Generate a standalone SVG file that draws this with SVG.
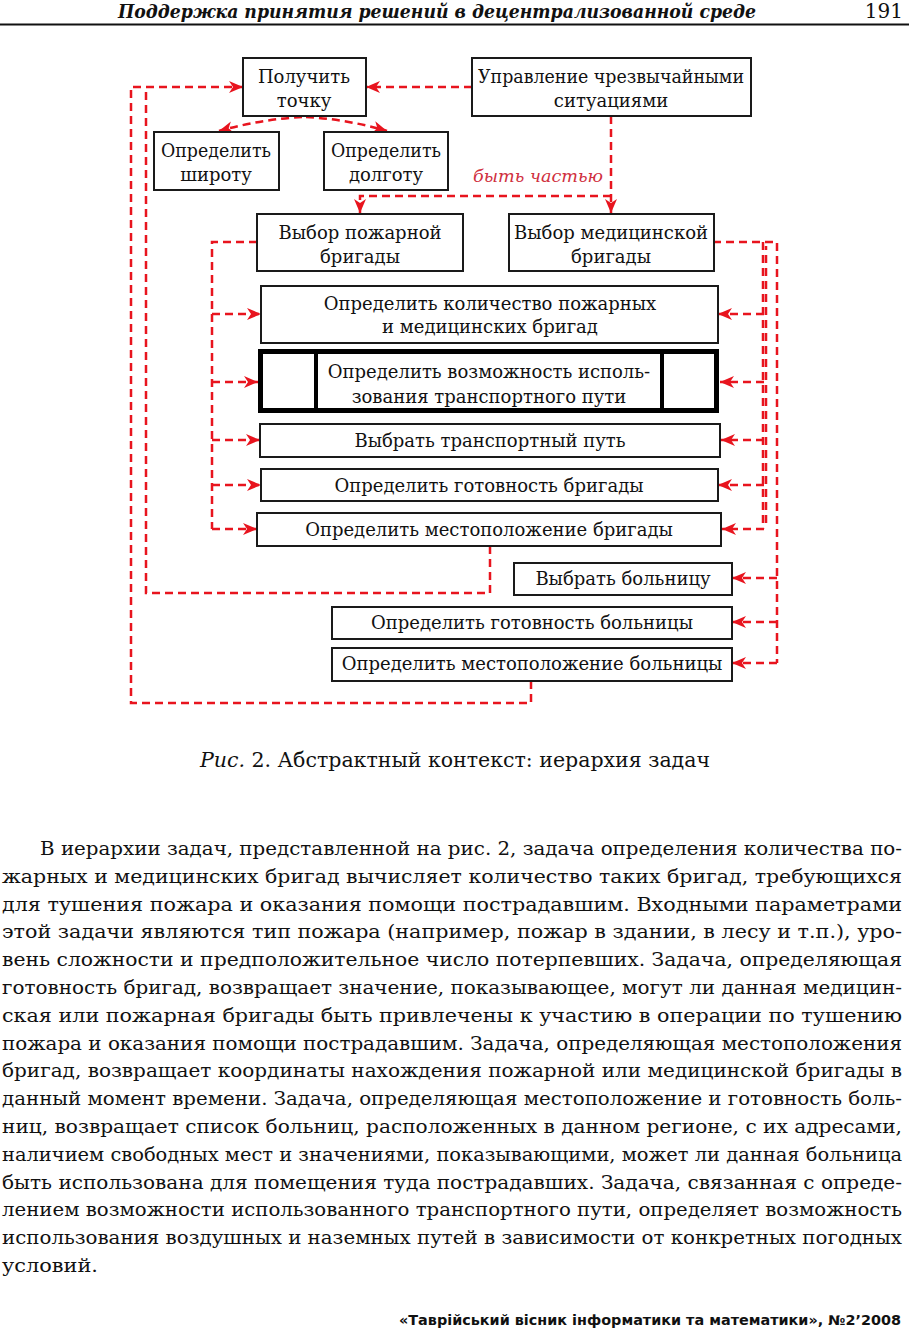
<svg xmlns="http://www.w3.org/2000/svg" width="909" height="1332" viewBox="0 0 909 1332">
<style>
.box{fill:#fff;stroke:#1a1a1a;stroke-width:2}
.thick{fill:#fff;stroke:#000;stroke-width:5}
.t{font-family:"DejaVu Serif","Liberation Serif",serif;font-size:18px;fill:#111;text-anchor:middle}
.c{fill:none;stroke:#e8141e;stroke-width:2.5;stroke-dasharray:8 5}
.a{marker-end:url(#arr)}
.lbl{font-family:"DejaVu Serif",serif;font-style:italic;font-size:17px;fill:#d03040}
.p{font-family:"DejaVu Serif","Liberation Serif",serif;font-size:20px;fill:#111}
.q{font-family:"DejaVu Serif","Liberation Serif",serif;font-size:19px;fill:#111}
</style>
<defs>
<marker id="arr" markerUnits="userSpaceOnUse" markerWidth="16" markerHeight="14" refX="14" refY="7" orient="auto">
<path d="M0,1 L14,7 L0,13 L4,7 z" fill="#e8141e"/>
</marker>
</defs>
<rect width="909" height="1332" fill="#fff"/>

<g id="header">
<text x="437" y="18" text-anchor="middle" style="font-family:'DejaVu Serif',serif;font-style:italic;font-weight:bold;font-size:19px" textLength="638" lengthAdjust="spacingAndGlyphs" fill="#111">Поддержка принятия решений в децентрализованной среде</text>
<text x="903" y="18" text-anchor="end" style="font-family:'DejaVu Serif',serif;font-size:20px" fill="#111">191</text>
<line x1="0" y1="24.5" x2="909" y2="24.5" stroke="#111" stroke-width="2"/>
</g>

<g id="connectors">
<path class="c a" d="M472,87 H366"/>
<path class="c a" d="M490,546 V593 H146 V87 H243"/>
<path class="c" d="M531,681 V703 H131 V87 H146"/>
<path class="c a" d="M302,117 Q262,119 219,131"/>
<path class="c a" d="M306,117 Q346,119 387,131"/>
<path class="c a" d="M611,116 V213"/>
<path class="c a" d="M611,196 H360 V213"/>
<text class="lbl" x="603" y="182" text-anchor="end" textLength="130" lengthAdjust="spacingAndGlyphs">быть частью</text>
<path class="c" d="M257,242 H212 V529"/>
<path class="c a" d="M212,314 H261"/>
<path class="c a" d="M212,382 H258"/>
<path class="c a" d="M212,440 H260"/>
<path class="c a" d="M212,485 H261"/>
<path class="c a" d="M212,529 H257"/>
<path class="c" d="M713,242 H777 V663"/>
<path class="c" d="M763,242 V529"/>
<path class="c" d="M766,246 V526" style="stroke-dashoffset:4"/>
<path class="c a" d="M764,314 H718"/>
<path class="c a" d="M764,382 H720"/>
<path class="c a" d="M764,440 H721"/>
<path class="c a" d="M764,485 H718"/>
<path class="c a" d="M764,529 H722"/>
<path class="c a" d="M777,578 H732"/>
<path class="c a" d="M777,622 H732"/>
<path class="c a" d="M777,663 H732"/>
</g>

<g id="n-get-point">
<rect class="box" x="243" y="58" width="123" height="58"/>
<text class="t" x="304" y="83">Получить</text>
<text class="t" x="304" y="107">точку</text>
</g>
<g id="n-emergency">
<rect class="box" x="472" y="58" width="279" height="58"/>
<text class="t" x="611" y="83" textLength="266" lengthAdjust="spacingAndGlyphs">Управление чрезвычайными</text>
<text class="t" x="611" y="107">ситуациями</text>
</g>
<g id="n-latitude">
<rect class="box" x="154" y="132" width="125" height="58"/>
<text class="t" x="216" y="157" textLength="110" lengthAdjust="spacingAndGlyphs">Определить</text>
<text class="t" x="216" y="181">широту</text>
</g>
<g id="n-longitude">
<rect class="box" x="324" y="132" width="124" height="58"/>
<text class="t" x="386" y="157" textLength="110" lengthAdjust="spacingAndGlyphs">Определить</text>
<text class="t" x="386" y="181">долготу</text>
</g>
<g id="n-fire-brigade">
<rect class="box" x="257" y="214" width="206" height="57"/>
<text class="t" x="360" y="239">Выбор пожарной</text>
<text class="t" x="360" y="263">бригады</text>
</g>
<g id="n-med-brigade">
<rect class="box" x="509" y="214" width="205" height="57"/>
<text class="t" x="611" y="239" textLength="194" lengthAdjust="spacingAndGlyphs">Выбор медицинской</text>
<text class="t" x="611" y="263">бригады</text>
</g>
<g id="n-count">
<rect class="box" x="261" y="286" width="457" height="57"/>
<text class="t" x="490" y="310">Определить количество пожарных</text>
<text class="t" x="490" y="333">и медицинских бригад</text>
</g>
<g id="n-route-possibility">
<rect class="thick" x="260.5" y="351.5" width="456" height="59"/>
<line x1="316" y1="351" x2="316" y2="411" stroke="#000" stroke-width="4"/>
<line x1="662" y1="351" x2="662" y2="411" stroke="#000" stroke-width="4"/>
<text class="t" x="489" y="378">Определить возможность исполь-</text>
<text class="t" x="489" y="403">зования транспортного пути</text>
</g>
<g id="n-choose-route">
<rect class="box" x="260" y="424" width="460" height="33"/>
<text class="t" x="490" y="447">Выбрать транспортный путь</text>
</g>
<g id="n-brigade-ready">
<rect class="box" x="261" y="469" width="457" height="32"/>
<text class="t" x="489" y="492">Определить готовность бригады</text>
</g>
<g id="n-brigade-loc">
<rect class="box" x="257" y="513" width="464" height="33"/>
<text class="t" x="489" y="536">Определить местоположение бригады</text>
</g>
<g id="n-choose-hospital">
<rect class="box" x="514" y="563" width="218" height="32"/>
<text class="t" x="623" y="585">Выбрать больницу</text>
</g>
<g id="n-hospital-ready">
<rect class="box" x="332" y="607" width="400" height="32"/>
<text class="t" x="532" y="629">Определить готовность больницы</text>
</g>
<g id="n-hospital-loc">
<rect class="box" x="332" y="648" width="400" height="33"/>
<text class="t" x="532" y="670">Определить местоположение больницы</text>
</g>

<g id="caption">
<text class="p" x="200" y="767" textLength="510" lengthAdjust="spacingAndGlyphs"><tspan font-style="italic">Рис.</tspan> 2. Абстрактный контекст: иерархия задач</text>
</g>

<g id="paragraph">
<text class="q" x="40" y="855" textLength="862" lengthAdjust="spacingAndGlyphs">В иерархии задач, представленной на рис. 2, задача определения количества по-</text>
<text class="q" x="2" y="883" textLength="900" lengthAdjust="spacingAndGlyphs">жарных и медицинских бригад вычисляет количество таких бригад, требующихся</text>
<text class="q" x="2" y="911" textLength="900" lengthAdjust="spacingAndGlyphs">для тушения пожара и оказания помощи пострадавшим. Входными параметрами</text>
<text class="q" x="2" y="938" textLength="900" lengthAdjust="spacingAndGlyphs">этой задачи являются тип пожара (например, пожар в здании, в лесу и т.п.), уро-</text>
<text class="q" x="2" y="966" textLength="900" lengthAdjust="spacingAndGlyphs">вень сложности и предположительное число потерпевших. Задача, определяющая</text>
<text class="q" x="2" y="994" textLength="900" lengthAdjust="spacingAndGlyphs">готовность бригад, возвращает значение, показывающее, могут ли данная медицин-</text>
<text class="q" x="2" y="1022" textLength="900" lengthAdjust="spacingAndGlyphs">ская или пожарная бригады быть привлечены к участию в операции по тушению</text>
<text class="q" x="2" y="1050" textLength="900" lengthAdjust="spacingAndGlyphs">пожара и оказания помощи пострадавшим. Задача, определяющая местоположения</text>
<text class="q" x="2" y="1077" textLength="900" lengthAdjust="spacingAndGlyphs">бригад, возвращает координаты нахождения пожарной или медицинской бригады в</text>
<text class="q" x="2" y="1105" textLength="900" lengthAdjust="spacingAndGlyphs">данный момент времени. Задача, определяющая местоположение и готовность боль-</text>
<text class="q" x="2" y="1133" textLength="900" lengthAdjust="spacingAndGlyphs">ниц, возвращает список больниц, расположенных в данном регионе, с их адресами,</text>
<text class="q" x="2" y="1161" textLength="900" lengthAdjust="spacingAndGlyphs">наличием свободных мест и значениями, показывающими, может ли данная больница</text>
<text class="q" x="2" y="1189" textLength="900" lengthAdjust="spacingAndGlyphs">быть использована для помещения туда пострадавших. Задача, связанная с опреде-</text>
<text class="q" x="2" y="1216" textLength="900" lengthAdjust="spacingAndGlyphs">лением возможности использованного транспортного пути, определяет возможность</text>
<text class="q" x="2" y="1244" textLength="900" lengthAdjust="spacingAndGlyphs">использования воздушных и наземных путей в зависимости от конкретных погодных</text>
<text class="q" x="2" y="1272" textLength="96" lengthAdjust="spacingAndGlyphs">условий.</text>
</g>

<g id="footer">
<text x="399" y="1325" style="font-family:'DejaVu Sans',sans-serif;font-weight:bold;font-size:13.5px" textLength="502" lengthAdjust="spacingAndGlyphs" fill="#111">«Таврійський вісник інформатики та математики», №2’2008</text>
</g>
</svg>
